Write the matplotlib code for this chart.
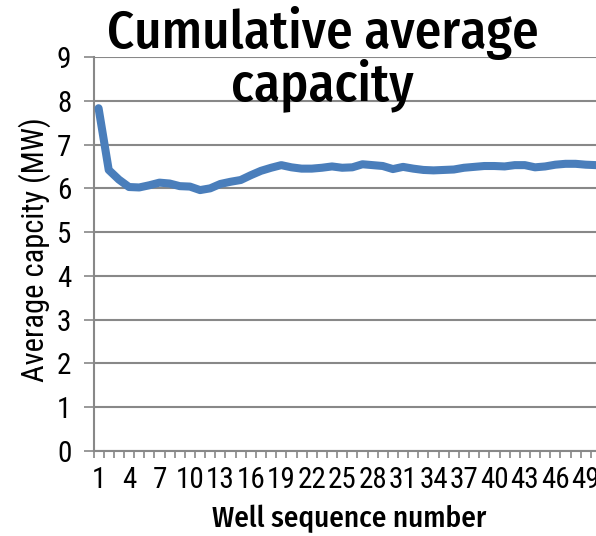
import numpy as np
import matplotlib
matplotlib.use("Agg")
from matplotlib import pyplot as plt
from matplotlib.ticker import MultipleLocator, FixedLocator

# Numero progressivo del pozzo e capacita' media cumulata (MW)
wells = np.arange(1, 51)
avg_capacity = np.array([
    7.83, 6.42, 6.20, 6.03, 6.02, 6.07, 6.13, 6.11, 6.05, 6.04,
    5.96, 6.00, 6.10, 6.15, 6.19, 6.30, 6.40, 6.47, 6.53, 6.48,
    6.45, 6.45, 6.47, 6.50, 6.47, 6.48, 6.55, 6.53, 6.51, 6.44,
    6.49, 6.45, 6.42, 6.41, 6.42, 6.43, 6.47, 6.49, 6.51, 6.51,
    6.50, 6.53, 6.53, 6.48, 6.50, 6.54, 6.56, 6.56, 6.54, 6.53,
])
tick_labels = np.arange(1, 61, 3)

cond = ["Roboto Condensed", "DejaVu Sans"]
fira = ["Fira Sans Condensed", "DejaVu Sans"]

W, H = 596, 536
fig = plt.figure(figsize=(W / 100, H / 100), dpi=100)

# l'asse x continua oltre il bordo destro della figura
px_per_cat = 10.15
n_cat = 60
ax = fig.add_axes([93.5 / W, (H - 451) / H, n_cat * px_per_cat / W, (451 - 57) / H])

grigio = "#888888"
ax.plot(wells, avg_capacity, color="#4a7ebb", lw=5.8, solid_capstyle="round",
        solid_joinstyle="round", zorder=3)

ax.set_xlim(0.5, n_cat + 0.5)
ax.set_ylim(0, 9)
ax.yaxis.set_major_locator(MultipleLocator(1))
ax.grid(axis="y", color=grigio, lw=1.5)
ax.set_axisbelow(True)

ax.xaxis.set_major_locator(FixedLocator(tick_labels))
ax.xaxis.set_minor_locator(FixedLocator(np.arange(0.5, n_cat + 1, 1)))
ax.tick_params(axis="x", which="major", length=0, pad=11, labelsize=21)
ax.tick_params(axis="x", which="minor", length=5, width=1.2, color=grigio)
ax.tick_params(axis="y", which="major", length=7, width=1.2, color=grigio,
               labelsize=21, pad=9)
for lab in ax.get_xticklabels() + ax.get_yticklabels():
    lab.set_fontfamily(cond)

for s in ["top", "right"]:
    ax.spines[s].set_visible(False)
for s in ["left", "bottom"]:
    ax.spines[s].set_color(grigio)
    ax.spines[s].set_linewidth(1.5)

fig.text(349 / W, 1 - 519 / H, "Well sequence number", ha="center", va="center",
         fontsize=21, fontweight="medium", family=fira)
fig.text(35 / W, 1 - 250 / H, "Average capcity (MW)", ha="center", va="center",
         rotation=90, fontsize=22, family=cond)

fig.text(323 / W, 1 - 48 / H, "Cumulative average", ha="center", va="baseline",
         fontsize=38, fontweight="medium", family=fira, zorder=5)
fig.text(322 / W, 1 - 100 / H, "capacity", ha="center", va="baseline",
         fontsize=38, fontweight="medium", family=fira, zorder=5)

fig.savefig("out.png", dpi=100)
